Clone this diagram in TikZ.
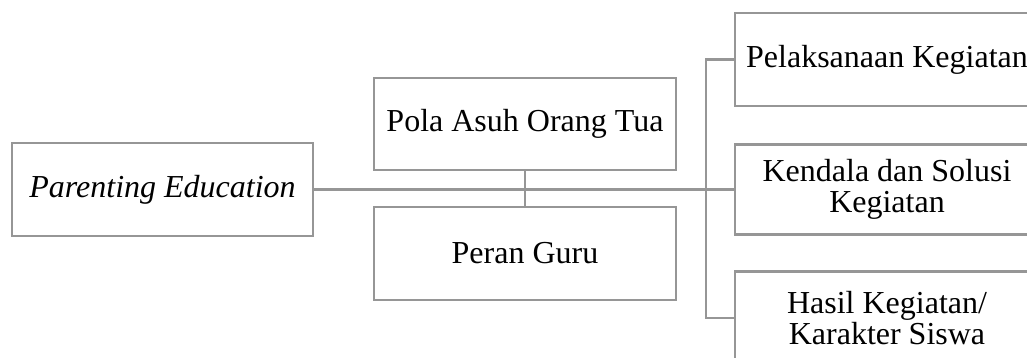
\documentclass[tikz,border=0pt]{standalone}
\usepackage{fontspec}
\setmainfont{Liberation Serif}
\definecolor{linegray}{RGB}{150,150,150}
\begin{document}
\begin{tikzpicture}[x=1pt,y=-1pt,
  box/.style={draw=linegray,line width=2.4pt,fill=white,inner sep=0pt,align=center,
    font=\fontsize{32}{31}\selectfont,text=black},
  link/.style={draw=linegray,line width=3pt},
  vlink/.style={draw=linegray,line width=2.4pt}]
\useasboundingbox (0,0) rectangle (1027,358);
\clip (0,0) rectangle (1027,358);
\coordinate (j) at (706,189.5);
\node[box,minimum width=301pt,minimum height=93pt] (pe) at (162.5,189.5) {\itshape Parenting Education};
\node[box,minimum width=302pt,minimum height=92pt] (pola) at (525,124) {Pola Asuh Orang Tua};
\node[box,minimum width=302pt,minimum height=93pt] (guru) at (525,253.5) {Peran Guru};
\node[box,minimum width=304pt,minimum height=93pt] (pel) at (887,59.5) {Pelaksanaan Kegiatan};
\node[box,minimum width=304pt,minimum height=90pt] (ken) at (887,189.5) {Kendala dan Solusi\\Kegiatan};
\node[box,minimum width=304pt,minimum height=93pt] (has) at (887,318) {Hasil Kegiatan/\\Karakter Siswa};
\draw[vlink] (pola.south) -- (guru.north);
\draw[link] (pe.east) -- (j) -- (ken.west);
\draw[vlink] (j) |- (pel.west);
\draw[vlink] (j) |- (has.west);
\end{tikzpicture}
\end{document}
